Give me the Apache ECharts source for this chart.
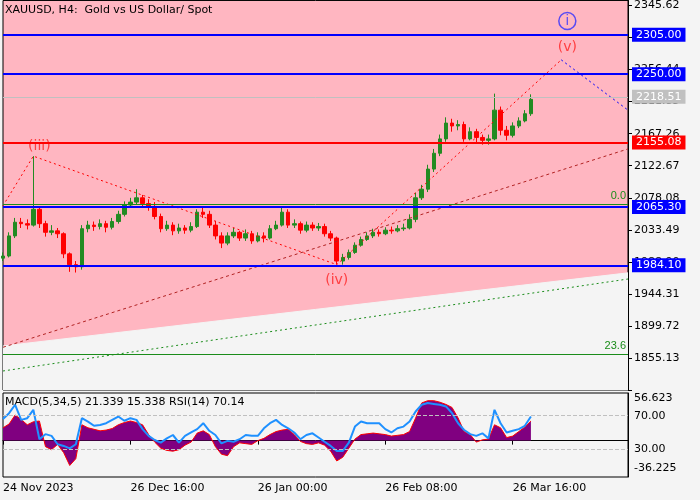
<!DOCTYPE html>
<html>
<head>
<meta charset="utf-8">
<script src="https://cdn.jsdelivr.net/npm/echarts@6/dist/echarts.min.js"></script>
<style>html,body{margin:0;padding:0;background:#f4f4f4}#chart{width:700px;height:500px}</style>
</head>
<body>
<div id="chart"></div>
<script>
// H4 candles (one candle per ~6px)
const closes = [1997,2025,2044,2042,2040,2062,2042,2030,2032,2028,
  2000,1985,1982,2035,2040,2038,2042,2037,2045,2055,
  2068,2072,2078,2070,2066,2052,2035,2040,2032,2036,
  2033,2038,2058,2055,2040,2025,2015,2025,2030,2022,
  2028,2018,2025,2022,2035,2040,2058,2040,2042,2033,
  2040,2036,2038,2028,2022,1990,1995,2002,2012,2020,
  2025,2030,2028,2033,2032,2035,2036,2048,2078,2090,
  2118,2140,2160,2182,2178,2180,2160,2170,2162,2158,
  2160,2200,2172,2165,2178,2185,2195,2215];
const highs = [2002,2030,2050,2050,2048,2136,2066,2046,2040,2036,
  2030,2002,1990,2040,2046,2045,2048,2046,2050,2060,
  2073,2078,2090,2082,2076,2072,2056,2046,2044,2042,
  2040,2044,2062,2064,2060,2046,2030,2030,2036,2032,
  2034,2032,2030,2030,2040,2046,2065,2062,2048,2045,
  2045,2044,2043,2042,2032,2024,2000,2006,2016,2024,
  2030,2035,2034,2037,2038,2040,2042,2055,2085,2096,
  2124,2146,2166,2190,2188,2186,2184,2176,2174,2166,
  2166,2223,2205,2178,2183,2190,2200,2222];
const lows = [1990,1995,2022,2036,2034,2038,2036,2024,2026,2022,
  1994,1975,1974,1978,2030,2032,2034,2030,2034,2042,
  2052,2064,2068,2066,2060,2048,2030,2032,2026,2028,
  2028,2030,2036,2050,2036,2020,2008,2012,2022,2018,
  2018,2014,2016,2016,2020,2033,2038,2036,2036,2028,
  2030,2032,2032,2024,2018,1985,1985,1992,2000,2010,
  2018,2022,2024,2026,2028,2030,2032,2034,2044,2075,
  2086,2114,2136,2156,2170,2172,2156,2158,2155,2152,
  2152,2158,2165,2158,2162,2175,2183,2192];
const macd = [17,22,34,28,21,25,26,-8,-12,-5,-16,-33,-24,21,17,15,13,14,16,21,
  24,26,24,21,8,-2,-10,-13,-14,-12,-6,-2,10,13,8,-8,-18,-20,-8,-3,
  -4,-5,0,3,8,12,14,15,8,-1,-4,-5,-3,-6,-14,-27,-22,-10,2,8,
  9,10,9,8,6,7,8,12,30,50,53,53,51,48,44,30,12,8,-2,1,
  2,21,17,4,6,12,18,26];
const rsi = [66,73,83,65,67,77,42,48,46,36,34,31,36,67,63,58,59,61,65,69,
  64,67,65,54,46,41,38,43,47,38,46,50,54,61,52,47,37,40,39,42,
  47,46,46,55,61,65,59,55,50,42,47,49,44,39,34,28,28,38,57,63,
  61,61,61,54,50,55,57,63,75,83,85,84,83,81,73,61,53,48,46,49,
  43,77,61,50,52,54,58,69];
const nCats = 104;
const tickLabels = {0:'24 Nov 2023', 21:'26 Dec 16:00', 42:'26 Jan 00:00', 63:'26 Feb 08:00', 84:'26 Mar 16:00'};
const levels = [
  {v:2305.00, c:'#0000ff'}, {v:2250.00, c:'#0000ff'}, {v:2155.08, c:'#ff0000'},
  {v:2065.30, c:'#0000ff'}, {v:1984.10, c:'#0000ff'}
];
const waveLine = [[0,2067],[5,2136],[55,1985],[92,2270]];
const waveNext = [[92,2270],[103,2200]];
const channelLow = [[0,1871.8],[103,1973.6]];
const trendBrown = [[0,1870],[103,2146]];
const trendGreen = [[0,1837],[103,1965]];
const waveLabels = [[5.5,2150,'(iii)'],[55,1963,'(iv)'],[92.5,2287,'(v)']];

const cats = [];
for (let i = 0; i < nCats; i++) cats.push(tickLabels[i] || '');
const candles = closes.map((c, i) => [i === 0 ? lows[0] + 4 : closes[i-1], c, lows[i], highs[i]]);

let myChart = echarts.init(document.getElementById('chart'));
const dashLine = (data, color, type) => ({
  type: 'line', data: data, symbol: 'none', silent: true,
  lineStyle: {color: color, width: 1, type: type || 'dashed'}
});
myChart.setOption({
  backgroundColor: '#f4f4f4',
  animation: false,
  graphic: [
    {type:'text', left:5, top:5, style:{text:'XAUUSD, H4:  Gold vs US Dollar/ Spot', font:'11px "DejaVu Sans"', fill:'#000'}},
    {type:'text', left:5, top:397, style:{text:'MACD(5,34,5) 21.339 15.338 RSI(14) 70.14', font:'11px "DejaVu Sans"', fill:'#000'}}
  ],
  grid: [
    {left:3, right:72, top:0, height:390, show:true, backgroundColor:'#ffb6c1', borderColor:'#000', borderWidth:1},
    {left:3, right:72, top:393, height:84, show:true, backgroundColor:'#f4f4f4', borderColor:'#000', borderWidth:1}
  ],
  xAxis: [
    {type:'category', gridIndex:0, data:cats, boundaryGap:false, axisLine:{show:false}, axisTick:{show:false}, axisLabel:{show:false}},
    {type:'category', gridIndex:1, data:cats, boundaryGap:false,
      axisLine:{lineStyle:{color:'#000'}},
      axisTick:{interval:(i, v) => v !== '', length:4, lineStyle:{color:'#000'}},
      axisLabel:{interval:0, align:'left', color:'#000', fontSize:11, fontFamily:'DejaVu Sans', margin:6}}
  ],
  yAxis: [
    {type:'value', gridIndex:0, position:'right', min:1810.54, max:2352.6, interval:44.59,
      axisLine:{show:true, lineStyle:{color:'#000'}}, axisTick:{show:true, length:4},
      splitLine:{show:false},
      axisLabel:{color:'#000', fontSize:11, fontFamily:'DejaVu Sans', margin:6,
        formatter: v => v < 1850 ? '' : v.toFixed(2)}},
    {type:'value', gridIndex:1, position:'right', min:-48.3, max:63.2,
      axisLine:{show:true, lineStyle:{color:'#000'}}, splitLine:{show:false},
      axisTick:{customValues:[-36.225, 56.623], length:4},
      axisLabel:{customValues:[-36.225, 56.623], color:'#000', fontSize:11, fontFamily:'DejaVu Sans', margin:6, formatter: v => String(v)}},
    {type:'value', gridIndex:1, position:'right', min:-3, max:97,
      axisLine:{show:false}, splitLine:{show:false},
      axisTick:{customValues:[30, 70], length:4},
      axisLabel:{customValues:[30, 70], color:'#000', fontSize:11, fontFamily:'DejaVu Sans', margin:6, formatter: v => v.toFixed(2)}}
  ],
  series: [
    Object.assign(dashLine(channelLow, '#f4f4f4', 'solid'), {areaStyle:{color:'#f4f4f4', origin:'start', opacity:1}}),
    dashLine(trendGreen, '#1a8c1a', [2,3]),
    dashLine(trendBrown, '#b22222', [3,3]),
    dashLine(waveLine, '#ff0000', [2,3]),
    dashLine(waveNext, '#0000ff', [2,3]),
    {
      type:'candlestick', data:candles, barWidth:4,
      itemStyle:{color:'#228b22', color0:'#ff0000', borderColor:'#228b22', borderColor0:'#ff0000', borderWidth:1},
      markLine:{
        symbol:'none', silent:true, animation:false,
        data: levels.map(l => ({yAxis:l.v, lineStyle:{color:l.c, width:2, type:'solid'},
          label:{position:'end', distance:4, formatter:l.v.toFixed(2), color:'#fff', backgroundColor:l.c, padding:[2,4,1,4], fontSize:11, fontFamily:'DejaVu Sans'}}))
          .concat([
            {yAxis:2218.51, lineStyle:{color:'#c0c0c0', width:1, type:'solid'},
              label:{position:'end', distance:4, formatter:'2218.51', color:'#fff', backgroundColor:'#c0c0c0', padding:[2,4,1,4], fontSize:11, fontFamily:'DejaVu Sans'}},
            {yAxis:2069.7, lineStyle:{color:'#1a8c1a', width:1, type:'solid'},
              label:{position:'insideEndTop', formatter:'0.0', color:'#1a8c1a', fontSize:11, distance:2}},
            {yAxis:1860.7, lineStyle:{color:'#1a8c1a', width:1, type:'solid'},
              label:{position:'insideEndTop', formatter:'23.6', color:'#1a8c1a', fontSize:11, distance:2}}
          ])
      }
    },
    {
      type:'scatter', data:waveLabels, symbolSize:0, silent:true,
      label:{show:true, position:'inside', formatter: p => p.data[2], color:'#ff2020', fontSize:14, fontFamily:'DejaVu Sans'}
    },
    {
      type:'scatter', data:[[93,2324]], symbol:'circle', symbolSize:17, silent:true,
      itemStyle:{color:'rgba(0,0,0,0)', borderColor:'#3030ff', borderWidth:1.5},
      label:{show:true, position:'inside', formatter:'i', color:'#3030ff', fontSize:14}
    },
    {
      type:'line', xAxisIndex:1, yAxisIndex:1, data:macd, symbol:'none',
      lineStyle:{color:'#ff0000', width:1}, areaStyle:{color:'#800080', opacity:1}
    },
    {
      type:'line', xAxisIndex:1, yAxisIndex:2, data:rsi, symbol:'none',
      lineStyle:{color:'#1e90ff', width:2},
      markLine:{symbol:'none', silent:true, label:{show:false},
        lineStyle:{color:'#c0c0c0', type:'dashed', width:1},
        data:[{yAxis:70},{yAxis:30}]}
    }
  ]
});
</script>
</body>
</html>
